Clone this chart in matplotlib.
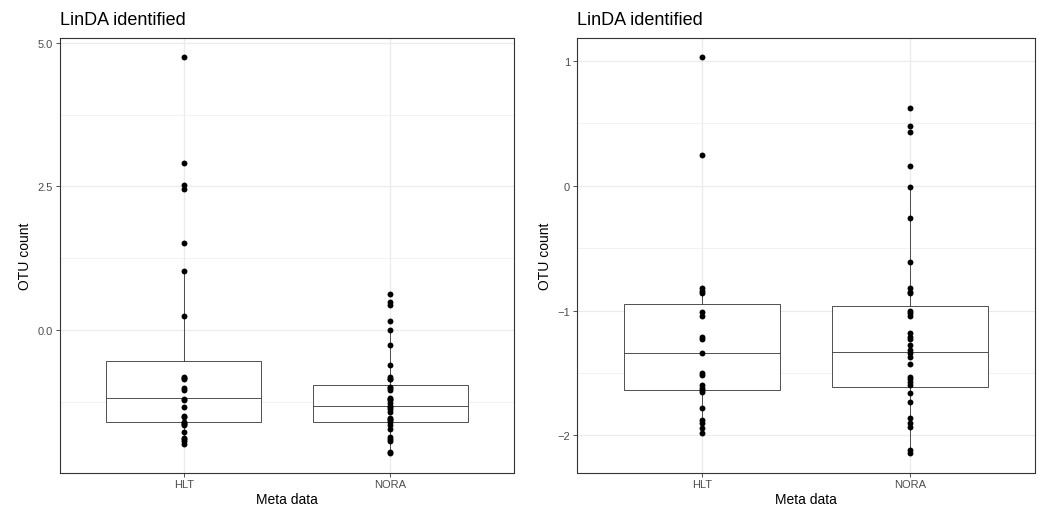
import matplotlib.pyplot as plt
import numpy as np

plt.rcParams['font.family'] = ['Liberation Sans', 'DejaVu Sans']

groups = ["HLT", "NORA"]

# values
hlt_high = [4.75, 2.90, 2.52, 2.45, 1.51]
hlt_core = [1.03, 0.25, -0.82, -0.84, -0.86, -1.01, -1.04, -1.21, -1.23, -1.34,
            -1.50, -1.52, -1.60, -1.62, -1.64, -1.65, -1.78, -1.88, -1.90, -1.94, -1.98]
nora = [0.62, 0.48, 0.43, 0.16, -0.01, -0.26, -0.61, -0.82, -0.85, -0.86, -1.00,
        -1.02, -1.04, -1.18, -1.21, -1.23, -1.28, -1.32, -1.34, -1.37, -1.43, -1.53,
        -1.55, -1.57, -1.60, -1.66, -1.73, -1.86, -1.90, -1.93, -2.12, -2.14]

# box statistics: (whislo, q1, med, q3, whishi)
left_boxes = [(-1.98, -1.60, -1.19, -0.55, 1.04), (-2.14, -1.61, -1.33, -0.96, -0.01)]
right_boxes = [(-1.98, -1.64, -1.34, -0.944, -0.82), (-2.14, -1.61, -1.33, -0.96, -0.01)]

left_data = [hlt_high + hlt_core, nora]
right_data = [hlt_core, nora]

W, H = 1042, 510
fig = plt.figure(figsize=(W / 100, H / 100), dpi=100)
ax1 = fig.add_axes([60 / W, (H - 473.5) / H, 454 / W, 435 / H])
ax2 = fig.add_axes([577 / W, (H - 473.5) / H, 458 / W, 435 / H])


def draw_panel(ax, data, boxes, major, minor):
    stats = []
    for (lo, q1, med, q3, hi), g in zip(boxes, groups):
        stats.append(dict(whislo=lo, q1=q1, med=med, q3=q3, whishi=hi, fliers=[], label=g))
    lp = dict(color='#333333', linewidth=0.6)
    ax.bxp(stats, positions=[1, 2], widths=0.75, patch_artist=True,
           boxprops=dict(facecolor='white', edgecolor='#333333', linewidth=0.6),
           medianprops=lp, whiskerprops=lp, capprops=dict(linewidth=0),
           showfliers=False, zorder=2)
    for i, vals in enumerate(data):
        ax.scatter(np.full(len(vals), i + 1), vals, s=18, color='black',
                   linewidths=0, zorder=3)
    allv = np.concatenate([np.asarray(v) for v in data])
    lo, hi = allv.min(), allv.max()
    pad = 0.05 * (hi - lo)
    ax.set_ylim(lo - pad, hi + pad)
    ax.set_xlim(0.4, 2.6)
    ax.set_xticks([1, 2])
    ax.set_xticklabels(groups)
    ax.set_yticks(major)
    ax.set_yticks(minor, minor=True)
    ax.grid(True, which='major', color='#EBEBEB', linewidth=0.9, zorder=0)
    ax.grid(True, which='minor', axis='y', color='#EBEBEB', linewidth=0.5, zorder=0)
    ax.set_axisbelow(True)
    for sp in ax.spines.values():
        sp.set_color('#333333')
        sp.set_linewidth(0.8)
    ax.tick_params(which='major', length=3, width=0.6, color='#333333',
                   labelsize=8, labelcolor='#4D4D4D', pad=2)
    ax.tick_params(which='minor', length=0)
    ax.set_xlabel("Meta data", fontsize=10, labelpad=2)
    ax.set_ylabel("OTU count", fontsize=10, labelpad=4)
    ax.set_title("LinDA identified", fontsize=13, loc='left', pad=10)


draw_panel(ax1, left_data, left_boxes, [0.0, 2.5, 5.0], [-1.25, 1.25, 3.75])
ax1.set_yticklabels(["0.0", "2.5", "5.0"])
draw_panel(ax2, right_data, right_boxes, [-2, -1, 0, 1], [-1.5, -0.5, 0.5])
ax2.set_yticklabels(["\u22122", "\u22121", "0", "1"])

fig.savefig("out.png", dpi=100)
